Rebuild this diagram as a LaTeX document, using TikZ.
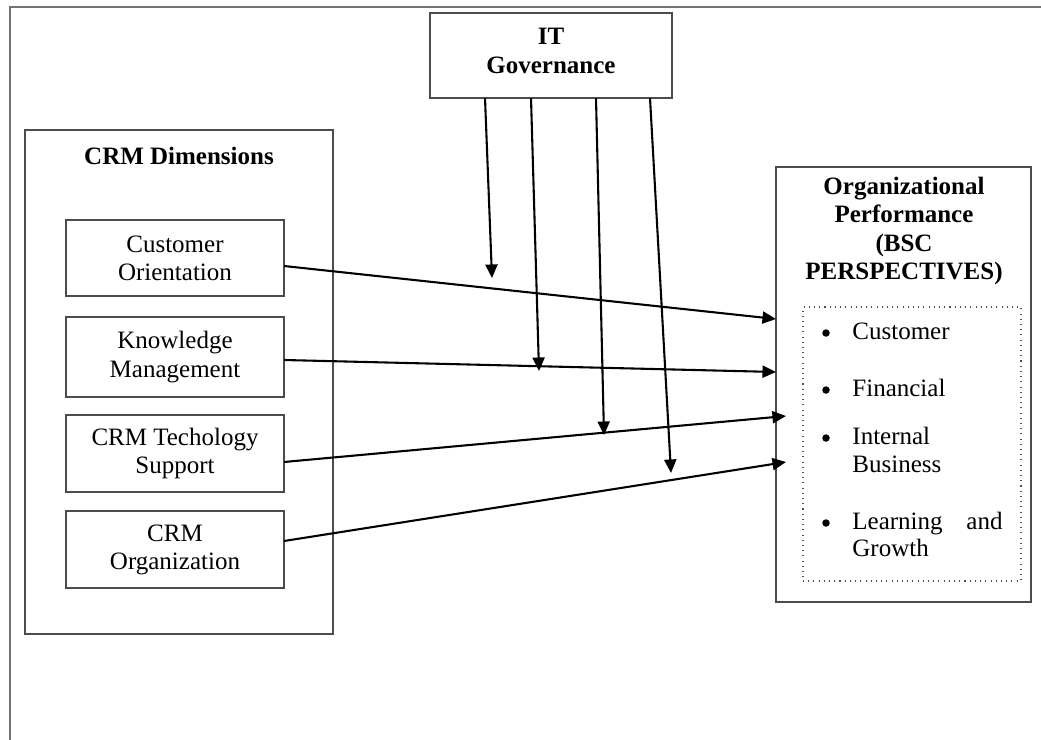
\documentclass[tikz,border=0pt]{standalone}
\usepackage{fontspec}
\setmainfont{Liberation Serif}
\usetikzlibrary{fit,arrows.meta}
\begin{document}
\begin{tikzpicture}[x=0.48pt,y=-0.48pt,
  box/.style={draw=black!70,line width=0.75pt,inner sep=0pt,align=center,font=\fontsize{12}{13.5}\selectfont},
  dim/.style={box,minimum width=104.64pt,minimum height=#1},
  arr/.style={line width=1pt,-{Triangle[length=6.5pt,width=5.8pt]}},
  frame/.style={draw=black!55,line width=0.6pt}]
\useasboundingbox (0,0) rectangle (1041,740);
\draw[frame] (10,740) -- (10,7) -- (1041,7);
% IT governance
\node[box,fit={(430,13)(672,98)}] (it) {};
\node[font=\fontsize{12}{13.5}\selectfont\bfseries,align=center] (itt) at (551,51) {IT\\Governance};
% CRM dimensions
\node[box,fit={(25,130)(333,634)}] (crm) {};
\node[font=\fontsize{12}{13.5}\selectfont\bfseries] (crmt) at (179,156) {CRM Dimensions};
\node[dim=36.5pt] (co) at (175,258) {Customer\\Orientation};
\node[dim=38.4pt] (km) at (175,357) {Knowledge\\Management};
\node[dim=37pt] (ts) at (175,453.5) {CRM Techology\\Support};
\node[dim=37pt] (org) at (175,549.5) {CRM\\Organization};
% Organizational performance
\node[box,fit={(776,167)(1031,602)}] (op) {};
\node[font=\fontsize{12}{13.5}\selectfont\bfseries,align=center] (opt) at (904,231) {Organizational\\Performance\\(BSC\\PERSPECTIVES)};
\node[draw=black!70,dotted,line width=0.5pt,inner sep=0pt,fit={(803,307)(1021,581)}] (bsc) {};
\tikzset{bul/.style={font=\fontsize{12}{13.5}\selectfont,anchor=west,inner sep=0pt},
  dot/.style={circle,fill=black,inner sep=0pt,minimum size=3.6pt}}
\node[dot] (b1) at (826,333) {};
\node[bul,anchor=base west] (t1) at (852,339) {Customer};
\node[dot] (b2) at (826,390) {};
\node[bul,anchor=base west] (t2) at (852,396) {Financial};
\node[dot] (b3) at (826,438) {};
\node[bul,anchor=base west] (t3) at (852,444) {Internal};
\node[bul,anchor=base west] (t3b) at (852,472) {Business};
\node[dot] (b4) at (826,523) {};
\node[bul,anchor=base west] (t4) at (852,529) {Learning};
\node[bul,anchor=base east] (t4b) at (1003,529) {and};
\node[bul,anchor=base west] (t4c) at (852,556) {Growth};
% coordinates
\coordinate (s1) at (284,266); \coordinate (e1) at (776,319);
\coordinate (s2) at (284,360); \coordinate (e2) at (776,372);
\coordinate (s3) at (284,462); \coordinate (e3) at (786,416);
\coordinate (s4) at (284,541); \coordinate (e4) at (786,462);
\coordinate (g1) at (485,98); \coordinate (h1) at (492,278);
\coordinate (g2) at (531,98); \coordinate (h2) at (539,371);
\coordinate (g3) at (596,98); \coordinate (h3) at (604,435);
\coordinate (g4) at (650,98); \coordinate (h4) at (671,473);
\draw[arr] (s1) -- (e1);
\draw[arr] (s2) -- (e2);
\draw[arr] (s3) -- (e3);
\draw[arr] (s4) -- (e4);
\draw[arr] (g1) -- (h1);
\draw[arr] (g2) -- (h2);
\draw[arr] (g3) -- (h3);
\draw[arr] (g4) -- (h4);
\end{tikzpicture}
\end{document}
